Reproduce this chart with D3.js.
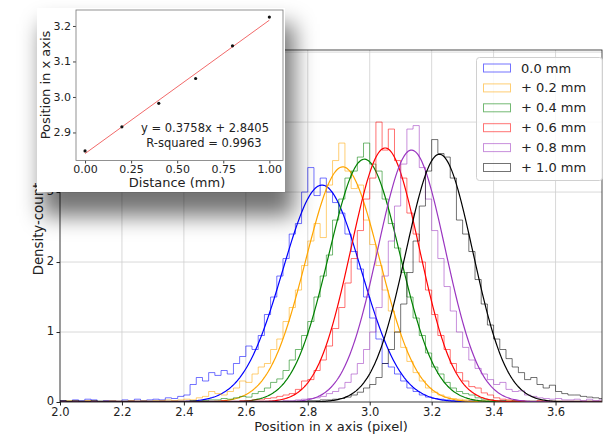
<!DOCTYPE html>
<html>
<head>
<meta charset="utf-8">
<script src="https://cdn.jsdelivr.net/npm/d3@7/dist/d3.min.js"></script>
<style>
  html, body { margin: 0; padding: 0; background: #fff; }
  svg text { font-family: "DejaVu Sans", sans-serif; fill: #222; }
</style>
</head>
<body>
<div id="chart"></div>
<script>
// histogram bins (pixel position), 0.02 wide starting at 2.0
var binStart = 2.0,
	binWidth = 0.02;

var seriesNames = ["0.0 mm", "+ 0.2 mm", "+ 0.4 mm", "+ 0.6 mm", "+ 0.8 mm", "+ 1.0 mm"];
var seriesColors = ["#0000ff", "#ffa500", "#008000", "#ff0000", "#9a35c0", "#000000"];

var countsBlue = [
	0.02,0.01,0.03,0.02,0.04,0.03,0.01,0.02,0.02,0.01,
	0.03,0.02,0.04,0.02,0.03,0.04,0.03,0.06,0.05,0.08,
	0.10,0.25,0.35,0.30,0.42,0.38,0.45,0.40,0.55,0.65,
	0.80,0.75,0.95,1.25,1.50,1.80,2.05,2.40,2.55,3.00,
	3.35,2.95,3.20,3.00,2.85,2.70,2.40,2.15,1.90,1.50,
	1.20,0.90,0.55,0.50,0.40,0.30,0.20,0.15,0.10,0.07,
	0.05,0.04,0.03,0.02,0.02,0.01,0.02,0.01,0.01,0.01,
	0.01,0.02,0.01,0.01,0.01,0.01,0.01,0.01,0.01,0.01,
	0.01,0.01,0.01,0.01,0.01,0.01,0.01,0.01];
var countsOrange = [
	0.01,0.02,0.01,0.01,0.02,0.01,0.01,0.01,0.02,0.01,
	0.01,0.02,0.01,0.02,0.01,0.02,0.02,0.03,0.02,0.03,
	0.04,0.03,0.06,0.08,0.15,0.12,0.10,0.15,0.20,0.30,
	0.28,0.40,0.50,0.55,0.75,0.90,1.15,1.35,1.60,1.95,
	2.30,2.55,2.35,3.10,3.45,3.70,3.30,3.05,3.10,2.60,
	2.25,1.95,1.60,1.30,1.00,0.78,0.58,0.42,0.30,0.20,
	0.14,0.10,0.07,0.05,0.04,0.03,0.03,0.02,0.02,0.02,
	0.01,0.01,0.02,0.01,0.01,0.01,0.01,0.01,0.01,0.01,
	0.01,0.01,0.01,0.01,0.01,0.01,0.01,0.01];
var countsGreen = [
	0.01,0.01,0.01,0.01,0.01,0.01,0.01,0.01,0.01,0.01,
	0.01,0.01,0.01,0.01,0.01,0.01,0.01,0.01,0.01,0.01,
	0.01,0.02,0.01,0.02,0.03,0.03,0.05,0.04,0.06,0.08,
	0.07,0.12,0.15,0.20,0.28,0.33,0.45,0.60,0.75,0.95,
	1.15,1.50,1.80,2.10,2.60,2.90,3.20,3.30,3.50,3.70,
	3.40,3.30,2.90,2.55,2.20,1.85,1.50,1.20,0.95,0.70,
	0.50,0.40,0.28,0.20,0.15,0.12,0.10,0.06,0.04,0.03,
	0.02,0.02,0.01,0.02,0.01,0.01,0.01,0.01,0.01,0.01,
	0.01,0.01,0.01,0.01,0.01,0.01,0.01,0.01];
var countsRed = [
	0.01,0.00,0.01,0.00,0.01,0.01,0.00,0.01,0.00,0.01,
	0.00,0.01,0.01,0.00,0.01,0.00,0.01,0.01,0.01,0.01,
	0.01,0.01,0.00,0.01,0.01,0.01,0.02,0.01,0.01,0.02,
	0.02,0.03,0.03,0.05,0.06,0.08,0.10,0.12,0.18,0.30,
	0.32,0.45,0.60,0.80,1.05,1.35,1.70,2.05,2.45,2.90,
	3.20,4.00,3.60,3.90,3.45,3.20,2.70,2.40,2.00,1.60,
	1.25,0.95,0.75,0.55,0.42,0.30,0.22,0.20,0.13,0.10,
	0.06,0.04,0.03,0.02,0.02,0.01,0.01,0.02,0.01,0.01,
	0.01,0.01,0.01,0.01,0.01,0.01,0.01,0.01];
var countsPurple = [
	0.01,0.00,0.01,0.01,0.00,0.01,0.00,0.01,0.01,0.00,
	0.01,0.00,0.01,0.01,0.00,0.01,0.01,0.00,0.01,0.01,
	0.01,0.01,0.01,0.00,0.01,0.01,0.01,0.01,0.01,0.01,
	0.01,0.01,0.01,0.01,0.01,0.01,0.02,0.02,0.03,0.04,
	0.05,0.06,0.08,0.12,0.15,0.20,0.28,0.40,0.55,0.75,
	1.00,1.35,1.80,2.30,2.80,3.40,3.90,3.95,3.35,2.90,
	2.45,2.05,1.65,1.30,1.00,0.78,0.60,0.48,0.40,0.32,
	0.25,0.28,0.18,0.15,0.16,0.10,0.08,0.06,0.05,0.04,
	0.05,0.03,0.03,0.04,0.02,0.04,0.02,0.03];
var countsBlack = [
	0.02,0.01,0.02,0.01,0.01,0.02,0.01,0.01,0.01,0.01,
	0.01,0.01,0.01,0.01,0.01,0.01,0.01,0.01,0.01,0.01,
	0.01,0.01,0.01,0.01,0.01,0.01,0.01,0.01,0.01,0.01,
	0.01,0.01,0.01,0.01,0.01,0.01,0.01,0.01,0.01,0.01,
	0.02,0.02,0.03,0.03,0.04,0.05,0.07,0.10,0.14,0.20,
	0.25,0.35,0.55,0.75,1.00,1.40,1.85,2.30,2.80,3.30,
	3.75,3.55,3.50,3.20,2.60,2.40,2.15,1.75,1.40,1.10,
	0.90,0.75,0.62,0.50,0.42,0.32,0.35,0.25,0.20,0.24,
	0.15,0.12,0.10,0.10,0.08,0.07,0.06,0.05];

// gaussian fit parameters per series
var fitAmp   = [3.10, 3.36, 3.47, 3.63, 3.60, 3.54];
var fitMu    = [2.846, 2.913, 2.983, 3.050, 3.135, 3.225];
var fitSigma = [0.127, 0.119, 0.115, 0.110, 0.109, 0.108];

var xTicks = [2.0, 2.2, 2.4, 2.6, 2.8, 3.0, 3.2, 3.4, 3.6];
var yTicks = [0, 1, 2, 3, 4, 5];

// inset: peak position vs displacement
var insetDistance = [0.0, 0.2, 0.4, 0.6, 0.8, 1.0];
var insetPosition = [2.848, 2.916, 2.982, 3.052, 3.144, 3.225];
var lineSlope = 0.3758,
	lineIntercept = 2.8405,
	rSquared = 0.9963;
var insetXTicks = [0, 0.25, 0.5, 0.75, 1.0];
var insetYTicks = [2.9, 3.0, 3.1, 3.2];

var allCounts = [countsBlue, countsOrange, countsGreen, countsRed, countsPurple, countsBlack];

var width = 608,
	height = 434;

var svg = d3.select("#chart").append("svg")
	.attr("width", width)
	.attr("height", height);

var defs = svg.append("defs");
defs.append("clipPath").attr("id", "plotClip")
	.append("rect").attr("x", 60).attr("y", 50).attr("width", 542).attr("height", 352);
defs.append("filter").attr("id", "shadowBlur")
	.attr("x", "-50%").attr("y", "-50%").attr("width", "200%").attr("height", "200%")
	.append("feGaussianBlur").attr("stdDeviation", 11);

var x = d3.scaleLinear().domain([2.0, 3.75]).range([60, 602]);
var y = d3.scaleLinear().domain([0, 5.03]).range([402, 50]);

// grid
var grid = svg.append("g");
grid.selectAll(".vg").data(xTicks).enter().append("line")
	.attr("x1", function(d) { return x(d); }).attr("x2", function(d) { return x(d); })
	.attr("y1", 50).attr("y2", 402)
	.style("stroke", "#cfcfcf").style("stroke-width", 0.8);
grid.selectAll(".hg").data(yTicks).enter().append("line")
	.attr("y1", function(d) { return y(d); }).attr("y2", function(d) { return y(d); })
	.attr("x1", 60).attr("x2", 602)
	.style("stroke", "#cfcfcf").style("stroke-width", 0.8);

var plot = svg.append("g").attr("clip-path", "url(#plotClip)");

var stepLine = d3.line()
	.x(function(d) { return x(d[0]); })
	.y(function(d) { return y(d[1]); })
	.curve(d3.curveStepAfter);

var curveLine = d3.line()
	.x(function(d) { return x(d[0]); })
	.y(function(d) { return y(d[1]); });

var curveXs = d3.range(2.0, 3.7501, 0.004);

allCounts.forEach(function(counts, i) {
	var pts = [[binStart, 0]];
	counts.forEach(function(c, k) { pts.push([binStart + k * binWidth, c]); });
	pts.push([binStart + counts.length * binWidth, 0]);
	plot.append("path")
		.attr("d", stepLine(pts))
		.style("fill", "none")
		.style("stroke", seriesColors[i])
		.style("stroke-opacity", 0.55)
		.style("stroke-width", 1);

	var fit = curveXs.map(function(v) {
		var z = (v - fitMu[i]) / fitSigma[i];
		return [v, fitAmp[i] * Math.exp(-0.5 * z * z)];
	});
	plot.append("path")
		.attr("d", curveLine(fit))
		.style("fill", "none")
		.style("stroke", seriesColors[i])
		.style("stroke-width", 1.2);
});

// axes
var xAxis = svg.append("g").attr("transform", "translate(0,402)")
	.call(d3.axisBottom(x).tickValues(xTicks).tickFormat(d3.format(".1f")).tickSizeInner(3.5).tickSizeOuter(0).tickPadding(2));
var yAxis = svg.append("g").attr("transform", "translate(60,0)")
	.call(d3.axisLeft(y).tickValues(yTicks).tickFormat(d3.format("d")).tickSizeInner(3.5).tickSizeOuter(0).tickPadding(2.5));
[xAxis, yAxis].forEach(function(a) {
	a.selectAll("text").style("font-size", "11.5px").style("fill", "#222");
	a.selectAll("line").style("stroke", "#222");
	a.select(".domain").remove();
});
yAxis.selectAll("text").attr("dy", "0.2em");
svg.append("rect").attr("x", 60).attr("y", 50).attr("width", 542).attr("height", 352)
	.style("fill", "none").style("stroke", "#222").style("stroke-width", 0.8);

svg.append("text").attr("x", 331).attr("y", 431).attr("text-anchor", "middle")
	.style("font-size", "13px").text("Position in x axis (pixel)");
svg.append("text").attr("transform", "translate(43,229) rotate(-90)").attr("text-anchor", "middle")
	.style("font-size", "13.3px").text("Density-count");

// legend
var legend = svg.append("g");
legend.append("rect").attr("x", 476.5).attr("y", 57.5).attr("width", 126).attr("height", 123).attr("rx", 3)
	.style("fill", "#fff").style("fill-opacity", 0.85).style("stroke", "#d0d0d0");
seriesNames.forEach(function(name, i) {
	var ly = 68 + i * 19.9;
	legend.append("rect").attr("x", 483.5).attr("y", ly - 4).attr("width", 27).attr("height", 8)
		.style("fill", "none").style("stroke", seriesColors[i]).style("stroke-opacity", 0.55);
	legend.append("text").attr("x", 521).attr("y", ly + 4.5)
		.style("font-size", "13px").text(name);
});

// inset shadow and inset
svg.append("rect").attr("x", 42).attr("y", 24).attr("width", 252).attr("height", 192)
	.style("fill", "#000").style("fill-opacity", 0.55)
	.attr("filter", "url(#shadowBlur)");

var inset = svg.append("g");
inset.append("rect").attr("x", 37).attr("y", 8).attr("width", 248).attr("height", 184).style("fill", "#fff");

var ix = d3.scaleLinear().domain([-0.049, 1.074]).range([76, 283]);
var iy = d3.scaleLinear().domain([2.821, 3.245]).range([160.5, 10]);

inset.append("line")
	.attr("x1", ix(0)).attr("y1", iy(lineIntercept))
	.attr("x2", ix(1)).attr("y2", iy(lineSlope + lineIntercept))
	.style("stroke", "#f26a6a").style("stroke-width", 1);
inset.selectAll(".pt").data(insetDistance).enter().append("circle")
	.attr("cx", function(d) { return ix(d); })
	.attr("cy", function(d, i) { return iy(insetPosition[i]); })
	.attr("r", 1.6).style("fill", "#111");

var ixAxis = inset.append("g").attr("transform", "translate(0,160.5)")
	.call(d3.axisBottom(ix).tickValues(insetXTicks).tickFormat(d3.format(".2f")).tickSizeInner(3).tickSizeOuter(0).tickPadding(2));
var iyAxis = inset.append("g").attr("transform", "translate(76,0)")
	.call(d3.axisLeft(iy).tickValues(insetYTicks).tickFormat(d3.format(".1f")).tickSizeInner(3).tickSizeOuter(0).tickPadding(2));
[ixAxis, iyAxis].forEach(function(a) {
	a.selectAll("text").style("font-size", "11px").style("fill", "#222");
	a.selectAll("line").style("stroke", "#444");
	a.select(".domain").remove();
});
inset.append("rect").attr("x", 76).attr("y", 10).attr("width", 207).attr("height", 150.5)
	.style("fill", "none").style("stroke", "#777").style("stroke-width", 0.8);

inset.append("text").attr("x", 205).attr("y", 132).attr("text-anchor", "middle")
	.style("font-size", "11.5px").text("y = " + lineSlope + "x + " + lineIntercept);
inset.append("text").attr("x", 204).attr("y", 147).attr("text-anchor", "middle")
	.style("font-size", "11.5px").text("R-squared = " + rSquared);
inset.append("text").attr("x", 177).attr("y", 187).attr("text-anchor", "middle")
	.style("font-size", "13px").text("Distance (mm)");
inset.append("text").attr("transform", "translate(50,85) rotate(-90)").attr("text-anchor", "middle")
	.style("font-size", "13px").text("Position in x axis");
</script>
</body>
</html>
